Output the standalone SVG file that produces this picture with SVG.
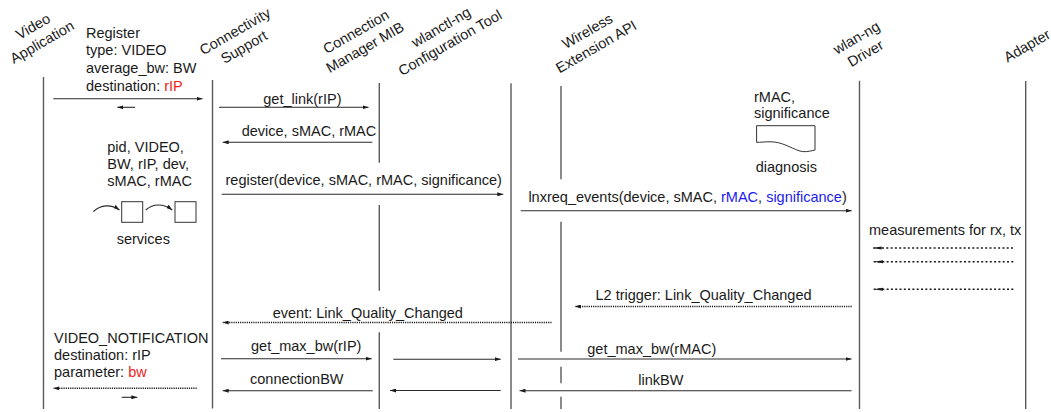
<svg xmlns="http://www.w3.org/2000/svg" width="1051" height="412" viewBox="0 0 1051 412">
<style>
text{font-family:"Liberation Sans",Arial,sans-serif;font-size:14.5px;fill:#1a1a1a}
.hd{text-anchor:middle}
.life{stroke:#5a5a5a;stroke-width:1.4;fill:none}
.msg{stroke:#2a2a2a;stroke-width:1.1;fill:none;marker-end:url(#ah)}
.dot{stroke:#1a1a1a;stroke-width:1.5;fill:none;stroke-dasharray:1.2 1;marker-end:url(#ah)}
.meas{stroke:#1a1a1a;stroke-width:1.6;fill:none;stroke-dasharray:2 2.3;marker-end:url(#ahm)}
.red{fill:#ee1c1c}
.blue{fill:#1c1cee}
.box{fill:#fff;stroke:#333;stroke-width:1}
</style>
<defs>
<marker id="ah" viewBox="0 0 6 4" refX="6" refY="2" markerWidth="6" markerHeight="4" markerUnits="userSpaceOnUse" orient="auto"><path d="M0,0 L6,2 L0,4 z" fill="#1a1a1a"/></marker>
<marker id="ahm" viewBox="0 0 10 4" refX="10" refY="2" markerWidth="10" markerHeight="4" markerUnits="userSpaceOnUse" orient="auto"><path d="M0,0.4 L10,2 L0,3.6 z" fill="#1a1a1a"/></marker>
</defs>

<g id="video-application">
<text class="hd" transform="translate(44.5,46.3) rotate(-30)"><tspan x="0" y="-18">Video</tspan><tspan x="0" y="0">Application</tspan></text>
<line class="life" x1="43.5" y1="77" x2="43.5" y2="409"/>
</g>
<g id="connectivity-support">
<text class="hd" transform="translate(246.5,51.3) rotate(-30)"><tspan x="0" y="-18">Connectivity</tspan><tspan x="0" y="0">Support</tspan></text>
<line class="life" x1="212.5" y1="80" x2="212.5" y2="408.5"/>
</g>
<g id="connection-manager-mib">
<text class="hd" transform="translate(367.5,51.6) rotate(-30)"><tspan x="0" y="-18">Connection</tspan><tspan x="0" y="0">Manager MIB</tspan></text>
<path class="life" d="M379.3,83 V162.7 M379.3,205 V290.7 M379.3,332.3 V409"/>
</g>
<g id="wlanctl-ng">
<text class="hd" transform="translate(452.5,47) rotate(-30)"><tspan x="0" y="-18">wlanctl-ng</tspan><tspan x="0" y="0">Configuration Tool</tspan></text>
<line class="life" x1="511" y1="83.3" x2="511" y2="409"/>
</g>
<g id="wireless-extension-api">
<text class="hd" transform="translate(598.7,51) rotate(-30)"><tspan x="0" y="-18">Wireless</tspan><tspan x="0" y="0">Extension API</tspan></text>
<path class="life" d="M561,86 V179.3 M561,221.7 V351.7 M561,366.7 V383.3 M561,396.7 V409"/>
</g>
<g id="wlan-ng-driver">
<text class="hd" transform="translate(868,57.6) rotate(-30)"><tspan x="0" y="-18">wlan-ng</tspan><tspan x="0" y="0">Driver</tspan></text>
<line class="life" x1="859.5" y1="80.7" x2="859.5" y2="409"/>
</g>
<g id="adapter">
<text class="hd" transform="translate(1029.5,50) rotate(-30)">Adapter</text>
<line class="life" x1="1025.7" y1="81" x2="1025.7" y2="409"/>
</g>

<g id="register-note">
<text x="86" y="37.5">Register</text>
<text x="86" y="55.3">type: VIDEO</text>
<text x="86" y="73.1">average_bw: BW</text>
<text x="86" y="90.9">destination: <tspan class="red">rIP</tspan></text>
</g>
<g id="services-note">
<text x="107.3" y="151.7">pid, VIDEO,</text>
<text x="107.3" y="169">BW, rIP, dev,</text>
<text x="107.3" y="186.2">sMAC, rMAC</text>
<rect class="box" x="121.7" y="201.7" width="21" height="20.6"/>
<rect class="box" x="175" y="201.7" width="21" height="20.6"/>
<text x="143.3" y="244" text-anchor="middle">services</text>
</g>
<g id="diagnosis-note">
<text x="754" y="102">rMAC,</text>
<text x="754" y="117.5">significance</text>
<path class="box" d="M756.6,125.7 H815 V150 C809,151.5 804,152.5 799,150.8 C790,147.5 782,142 771,141.8 C765,141.6 760,142.6 756.6,142.3 Z"/>
<text x="755.7" y="171.7">diagnosis</text>
</g>
<g id="notification-note">
<text x="54" y="343.3">VIDEO_NOTIFICATION</text>
<text x="54" y="360.2">destination: rIP</text>
<text x="54" y="377.1">parameter: <tspan class="red">bw</tspan></text>
</g>
<g id="measurements-note">
<text x="869" y="235">measurements for rx, tx</text>
</g>

<g id="connectors">
<line class="msg" x1="53.3" y1="98.7" x2="202.5" y2="98.7"/>
<line class="msg" x1="135" y1="107.3" x2="117.3" y2="107.3"/>
<text x="263.3" y="103.5">get_link(rIP)</text>
<line class="msg" x1="219" y1="107.3" x2="368.5" y2="107.3"/>
<text x="241.7" y="135.5">device, sMAC, rMAC</text>
<line class="msg" x1="372.3" y1="142.3" x2="222.7" y2="142.3"/>
<text x="225.5" y="185">register(device, sMAC, rMAC, significance)</text>
<line class="msg" x1="221.7" y1="194.3" x2="503.3" y2="194.3"/>
<path class="msg" d="M93.3,211.7 C101,204.5 111,204 119.5,210"/>
<path class="msg" d="M145.7,210 C153,203.5 163,203 172.3,210"/>
<text x="528.4" y="201.5">lnxreq_events(device, sMAC, <tspan class="blue">rMAC</tspan>, <tspan class="blue">significance</tspan>)</text>
<line class="msg" x1="520.7" y1="210.7" x2="851.7" y2="210.7"/>
<line class="meas" x1="1013" y1="248" x2="871.7" y2="248"/>
<line class="meas" x1="1013.3" y1="261.7" x2="873.3" y2="261.7"/>
<line class="meas" x1="1013.3" y1="289.3" x2="873.3" y2="289.3"/>
<text x="595.5" y="299.7">L2 trigger: Link_Quality_Changed</text>
<line class="dot" x1="851.7" y1="306.5" x2="575" y2="306.5"/>
<text x="272.7" y="317.5">event: Link_Quality_Changed</text>
<line class="dot" x1="551.5" y1="322.5" x2="222.7" y2="322.5"/>
<text x="251" y="350.7">get_max_bw(rIP)</text>
<line class="msg" x1="221" y1="358.7" x2="371.7" y2="358.7"/>
<line class="msg" x1="393.3" y1="359.2" x2="500.7" y2="359.2"/>
<text x="587.3" y="354.3">get_max_bw(rMAC)</text>
<line class="msg" x1="518" y1="359" x2="851.5" y2="359"/>
<line class="dot" x1="196.7" y1="388.3" x2="53.3" y2="388.3"/>
<line class="msg" x1="121.7" y1="397.3" x2="137.3" y2="397.3"/>
<text x="250" y="384">connectionBW</text>
<line class="msg" x1="372.7" y1="390.7" x2="222.7" y2="390.7"/>
<line class="msg" x1="500.7" y1="390.5" x2="390" y2="390.5"/>
<text x="638.3" y="385">linkBW</text>
<line class="msg" x1="851.5" y1="390.7" x2="519.5" y2="390.7"/>
</g>
</svg>
